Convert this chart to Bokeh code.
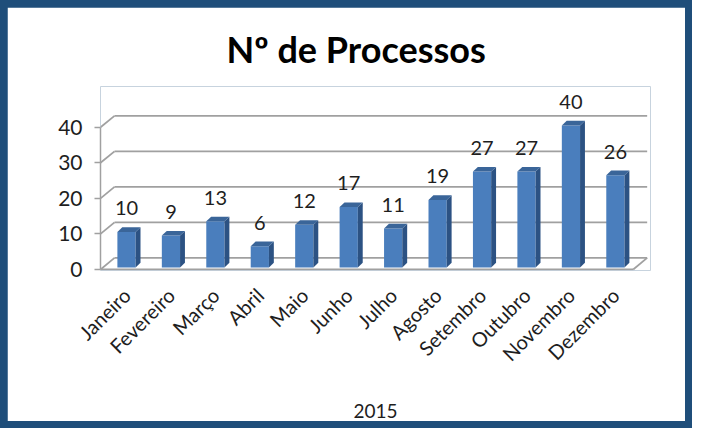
import math
from bokeh.plotting import figure
from bokeh.models import Range1d, FixedTicker, ColumnDataSource
from bokeh.layouts import column
from bokeh.embed import file_html
from bokeh.resources import INLINE
from bokeh.core.properties import value

# ---- data ----
months = ["Janeiro", "Fevereiro", "Março", "Abril", "Maio", "Junho",
          "Julho", "Agosto", "Setembro", "Outubro", "Novembro", "Dezembro"]
processos = [10, 9, 13, 6, 12, 17, 11, 19, 27, 27, 40, 26]
y_ticks = [0, 10, 20, 30, 40]
title_text = "Nº de Processos"
x_title = "2015"

# ---- 3D geometry (data units) ----
X0, XR = -0.585, 11.4        # floor front edge
DX, DY = 0.315, 3.24         # wall depth
BW = 0.205                   # half bar width
BDX, BDY = 0.11, 1.3         # bar depth
YB = 0.55                    # bar base
XEND, YSTART, YEND = 11.79, -0.3, 51.5

GRID = "#A0A0A0"
FRONT, SIDE, TOP = "#4A7EBD", "#2C5283", "#3A6599"
FONT = "Lato"
TXT = "#1E1E1E"

p = figure(width=678, height=414, x_range=Range1d(X0, XEND),
           y_range=Range1d(YSTART, YEND), output_backend="svg",
           toolbar_location=None, min_border_left=93, min_border_right=35,
           min_border_top=79, min_border_bottom=151)
p.background_fill_color = "white"
p.border_fill_color = "white"
p.outline_line_color = None
p.xgrid.visible = False
p.ygrid.visible = False

# title
p.title.text = title_text
p.title.align = "left"
p.title.offset = 126
p.title.standoff = 32
p.title.text_font = FONT
p.title.text_font_size = "36px"
p.title.text_font_style = "bold"
p.title.text_color = "black"

# y axis
ya = p.yaxis[0]
ya.ticker = FixedTicker(ticks=y_ticks)
ya.bounds = (y_ticks[0], y_ticks[-1])
ya.axis_line_color = GRID
ya.axis_line_width = 1.5
ya.major_tick_line_color = GRID
ya.major_tick_line_width = 1.5
ya.major_tick_out = 6
ya.major_tick_in = 0
ya.minor_tick_out = 0
ya.minor_tick_in = 0
ya.major_label_text_font = FONT
ya.major_label_text_font_size = "21px"
ya.major_label_text_color = TXT
ya.major_label_standoff = 12

# x axis
xa = p.xaxis[0]
xa.ticker = FixedTicker(ticks=list(range(len(months))))
xa.major_label_overrides = {i: m for i, m in enumerate(months)}
xa.major_label_orientation = math.pi / 4
xa.bounds = (X0, XR)
xa.axis_line_color = None
xa.major_tick_out = 0
xa.major_tick_in = 0
xa.minor_tick_out = 0
xa.minor_tick_in = 0
xa.major_label_text_font = FONT
xa.major_label_text_font_size = "20px"
xa.major_label_text_color = TXT
xa.major_label_standoff = 21
xa.axis_label = x_title
xa.axis_label_text_font = FONT
xa.axis_label_text_font_size = "19px"
xa.axis_label_text_font_style = "normal"
xa.axis_label_text_color = TXT
xa.axis_label_standoff = 27

# walls / floor grid
gx, gy = [], []
for v in y_ticks:
    gx.append([X0, X0 + DX]); gy.append([v, v + DY])          # left wall
    gx.append([X0 + DX, XR + DX]); gy.append([v + DY, v + DY])  # back wall
gx.append([X0, XR]); gy.append([y_ticks[0], y_ticks[0]])          # floor front
gx.append([XR, XR + DX]); gy.append([y_ticks[0], y_ticks[0] + DY])  # floor right
p.multi_line(xs=gx, ys=gy, line_color=GRID, line_width=1.8)

# bars
idx = list(range(len(months)))
tops = [YB + v for v in processos]
p.quad(left=[i - BW for i in idx], right=[i + BW for i in idx],
       bottom=[YB] * len(idx), top=tops, fill_color=FRONT, line_color=None)
sx = [[i + BW, i + BW + BDX, i + BW + BDX, i + BW] for i in idx]
sy = [[YB, YB + BDY, t + BDY, t] for t in tops]
p.patches(xs=sx, ys=sy, fill_color=SIDE, line_color=None)
tx = [[i - BW, i + BW, i + BW + BDX, i - BW + BDX] for i in idx]
ty = [[t, t, t + BDY, t + BDY] for t in tops]
p.patches(xs=tx, ys=ty, fill_color=TOP, line_color=None)

# data labels
src = ColumnDataSource(dict(x=idx, y=[t + BDY for t in tops],
                            label=[str(v) for v in processos]))
p.text(x="x", y="y", text="label", source=src, text_align="center",
       text_baseline="bottom", y_offset=-12, text_font=value(FONT),
       text_font_size="20px", text_color=TXT)

layout = column(p, width=692, height=428, sizing_mode="fixed",
                styles={"background-color": "#1F4E7A", "padding": "7px",
                        "box-sizing": "border-box"})

open("out.html", "w").write(file_html(layout, INLINE))
